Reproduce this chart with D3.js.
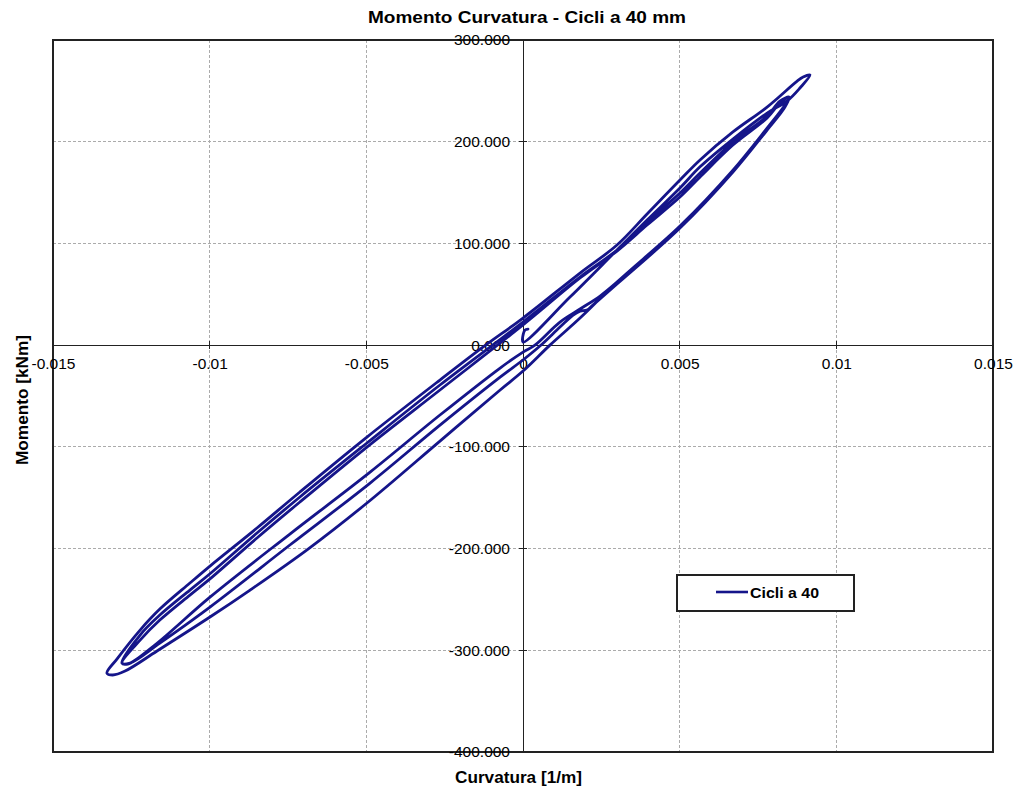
<!DOCTYPE html>
<html>
<head>
<meta charset="utf-8">
<script src="https://cdn.jsdelivr.net/npm/d3@7"></script>
<style>
  html, body { margin: 0; padding: 0; background: #fff; }
  svg { display: block; }
</style>
</head>
<body>
<svg id="chart" width="1019" height="796"></svg>
<script>
// ---- Data (curvature [1/m], moment [kNm]) ----
const titleText = "Momento Curvatura - Cicli a 40 mm";
const xLabel = "Curvatura [1/m]";
const yLabel = "Momento [kNm]";
const seriesName = "Cicli a 40";

const xTicks = [-0.015, -0.01, -0.005, 0, 0.005, 0.01, 0.015];
const xTickLabels = ["-0.015", "-0.01", "-0.005", "0", "0.005", "0.01", "0.015"];
const yTicks = [300, 200, 100, 0, -100, -200, -300, -400];
const yTickLabels = ["300.000", "200.000", "100.000", "0.000", "-100.000", "-200.000", "-300.000", "-400.000"];

// initial loading to the first (outer) positive peak
const loading0 = [[0.00016,15.8],[0.00006,14.8],[0.0,3.0],[0.0015,47.3],[0.0030,93.5],[0.00396,123.0],[0.00501,154.5],[0.00565,175.3],[0.0067,202.6],[0.00779,228.1],[0.00843,240.0],[0.00884,252.8],[0.00916,265.5]];
// cycle 1: positive outer peak -> negative outer peak
const down1 = [[0.00894,263.6],[0.00875,259.6],[0.00779,234.1],[0.0067,209.6],[0.00565,182.0],[0.00501,162.3],[0.00396,128.9],[0.0030,98.4],[0.00182,70.9],[0.0,26.6],[-0.00128,-2.0],[-0.00265,-34.3],[-0.00498,-90.4],[-0.00712,-144.4],[-0.00849,-179.8],[-0.00999,-217.2],[-0.01063,-233.9],[-0.01159,-259.5],[-0.01222,-280.1],[-0.01296,-308.6],[-0.01328,-322.4]];
// cycle 1: negative outer peak -> positive inner peak
const up1 = [[-0.01309,-324.3],[-0.0127,-320.4],[-0.01168,-300.7],[-0.00999,-267.3],[-0.00871,-240.8],[-0.00686,-200.5],[-0.00498,-155.2],[-0.00265,-94.3],[-0.00073,-44.1],[0.0,-25.5],[0.00086,0.0],[0.00182,26.6],[0.0030,62.0],[0.00501,117.1],[0.0067,172.1],[0.00779,213.4],[0.00836,236.1],[0.00849,243.9]];
// cycle 2
const down2 = [[0.0082,240.0],[0.00779,225.2],[0.0067,199.7],[0.00565,169.2],[0.00501,149.5],[0.00396,121.0],[0.0030,93.5],[0.00182,67.0],[0.0,22.7],[-0.00265,-39.2],[-0.00498,-96.2],[-0.00712,-149.3],[-0.00849,-184.7],[-0.00999,-224.8],[-0.01063,-240.8],[-0.01159,-265.4],[-0.01222,-285.0],[-0.0128,-312.5]];
const up2 = [[-0.01254,-312.5],[-0.01159,-292.9],[-0.00999,-257.5],[-0.00744,-196.5],[-0.00488,-135.6],[-0.00265,-78.6],[-0.00073,-31.4],[0.0,-14.6],[0.00054,-0.9],[0.00118,17.8],[0.0016,29.6],[0.00182,33.5],[0.00204,34.5],[0.00223,39.4],[0.0030,60.1],[0.00501,115.1],[0.0067,170.2],[0.00779,211.5],[0.00836,234.1],[0.00849,243.9]];
// cycle 3
const down3 = [[0.0082,238.0],[0.00779,223.3],[0.0067,196.7],[0.00565,165.3],[0.00501,145.6],[0.00396,118.1],[0.0030,92.5],[0.00182,66.0],[0.0,19.8],[-0.00265,-44.1],[-0.00498,-100.2],[-0.00712,-154.2],[-0.00849,-189.6],[-0.00999,-229.8],[-0.01063,-245.7],[-0.01159,-270.3],[-0.01222,-290.0],[-0.0128,-312.5]];
const up3 = [[-0.01261,-313.5],[-0.01175,-294.8],[-0.00999,-247.7],[-0.00744,-185.7],[-0.00488,-124.8],[-0.00265,-68.7],[-0.00073,-22.5],[0.0,-6.8],[0.00038,0.0],[0.00118,22.7],[0.00182,35.5],[0.00246,48.3],[0.0030,62.0]];

const curve = [].concat(loading0, down1, up1, down2, up2, down3, up3);

// ---- Layout ----
const svg = d3.select("#chart");
const plot = { left: 53, right: 993, top: 40, bottom: 752 };
const x = d3.scaleLinear().domain([-0.015, 0.015]).range([plot.left, plot.right]);
const y = d3.scaleLinear().domain([-400, 300]).range([plot.bottom, plot.top]);
const lineColor = "#15158A";
const gridColor = "#ababab";

svg.append("rect").attr("width", 1019).attr("height", 796).attr("fill", "#fff");

// grid
const g = svg.append("g");
g.selectAll("line.gx").data(xTicks.filter(v => v !== 0 && Math.abs(v) < 0.015)).join("line")
  .attr("x1", d => x(d)).attr("x2", d => x(d))
  .attr("y1", plot.top).attr("y2", plot.bottom)
  .attr("stroke", gridColor).attr("stroke-width", 1).attr("stroke-dasharray", "3,2")
  .attr("shape-rendering", "crispEdges");
g.selectAll("line.gy").data(yTicks.filter(v => v !== 0 && v < 300 && v > -400)).join("line")
  .attr("y1", d => y(d)).attr("y2", d => y(d))
  .attr("x1", plot.left).attr("x2", plot.right)
  .attr("stroke", gridColor).attr("stroke-width", 1).attr("stroke-dasharray", "3,2")
  .attr("shape-rendering", "crispEdges");

// plot border
svg.append("rect")
  .attr("x", plot.left).attr("y", plot.top)
  .attr("width", plot.right - plot.left).attr("height", plot.bottom - plot.top)
  .attr("fill", "none").attr("stroke", "#222").attr("stroke-width", 1.3)
  .attr("shape-rendering", "crispEdges");

// axes through origin
const fontTick = "'Liberation Sans', Arial, sans-serif";
const xAxis = d3.axisBottom(x).tickValues(xTicks)
  .tickFormat((d, i) => xTickLabels[i]).tickSizeInner(0).tickSizeOuter(0).tickPadding(13);
const gx = svg.append("g").attr("transform", `translate(0,${y(0)})`).call(xAxis);
gx.select(".domain").attr("stroke", "#222").attr("stroke-width", 1.3).attr("shape-rendering", "crispEdges");
gx.selectAll("text").attr("font-family", fontTick).attr("font-size", 15.5).attr("fill", "#000");

const yAxis = d3.axisLeft(y).tickValues(yTicks)
  .tickFormat((d, i) => yTickLabels[i]).tickSizeInner(0).tickSizeOuter(0).tickPadding(13);
const gy = svg.append("g").attr("transform", `translate(${x(0)},0)`).call(yAxis);
gy.select(".domain").attr("stroke", "#222").attr("stroke-width", 1.3).attr("shape-rendering", "crispEdges");
gy.selectAll("text").attr("font-family", fontTick).attr("font-size", 15.5).attr("fill", "#000");

// small tick marks crossing the axes
svg.append("g").selectAll("line").data(yTicks).join("line")
  .attr("x1", x(0) - 4).attr("x2", x(0) + 4)
  .attr("y1", d => y(d)).attr("y2", d => y(d))
  .attr("stroke", "#222").attr("stroke-width", 1).attr("shape-rendering", "crispEdges");
svg.append("g").selectAll("line").data(xTicks).join("line")
  .attr("y1", y(0) - 4).attr("y2", y(0) + 4)
  .attr("x1", d => x(d)).attr("x2", d => x(d))
  .attr("stroke", "#222").attr("stroke-width", 1).attr("shape-rendering", "crispEdges");

// data line
const line = d3.line()
  .x(d => x(d[0])).y(d => y(d[1]))
  .curve(d3.curveCatmullRom.alpha(0.5));
svg.append("path").datum(curve)
  .attr("d", line)
  .attr("fill", "none").attr("stroke", lineColor).attr("stroke-width", 2.8)
  .attr("stroke-linejoin", "round").attr("stroke-linecap", "round");

// titles
const fontTitle = "'Liberation Sans Narrow', 'Arial Narrow', 'Liberation Sans', Arial, sans-serif";
svg.append("text").text(titleText)
  .attr("x", 527).attr("y", 23).attr("text-anchor", "middle")
  .attr("font-family", fontTitle).attr("font-weight", "bold").attr("font-size", 17)
  .attr("textLength", 318).attr("lengthAdjust", "spacingAndGlyphs").attr("fill", "#000");
svg.append("text").text(xLabel)
  .attr("x", 518.5).attr("y", 783).attr("text-anchor", "middle")
  .attr("font-family", fontTitle).attr("font-weight", "bold").attr("font-size", 17)
  .attr("textLength", 127).attr("lengthAdjust", "spacingAndGlyphs").attr("fill", "#000");
svg.append("text").text(yLabel)
  .attr("transform", "translate(28,400) rotate(-90)").attr("text-anchor", "middle")
  .attr("font-family", fontTick).attr("font-weight", "bold").attr("font-size", 16)
  .attr("textLength", 130).attr("lengthAdjust", "spacingAndGlyphs").attr("fill", "#000");

// legend
const lg = svg.append("g");
lg.append("rect").attr("x", 677).attr("y", 575).attr("width", 177).attr("height", 36)
  .attr("fill", "#fff").attr("stroke", "#222").attr("stroke-width", 1.2).attr("shape-rendering", "crispEdges");
lg.append("line").attr("x1", 716).attr("x2", 748).attr("y1", 592).attr("y2", 592)
  .attr("stroke", lineColor).attr("stroke-width", 2.6);
lg.append("text").text(seriesName).attr("x", 750).attr("y", 597.5)
  .attr("font-family", fontTick).attr("font-weight", "bold").attr("font-size", 15)
  .attr("textLength", 69).attr("lengthAdjust", "spacingAndGlyphs").attr("fill", "#000");
</script>
</body>
</html>
